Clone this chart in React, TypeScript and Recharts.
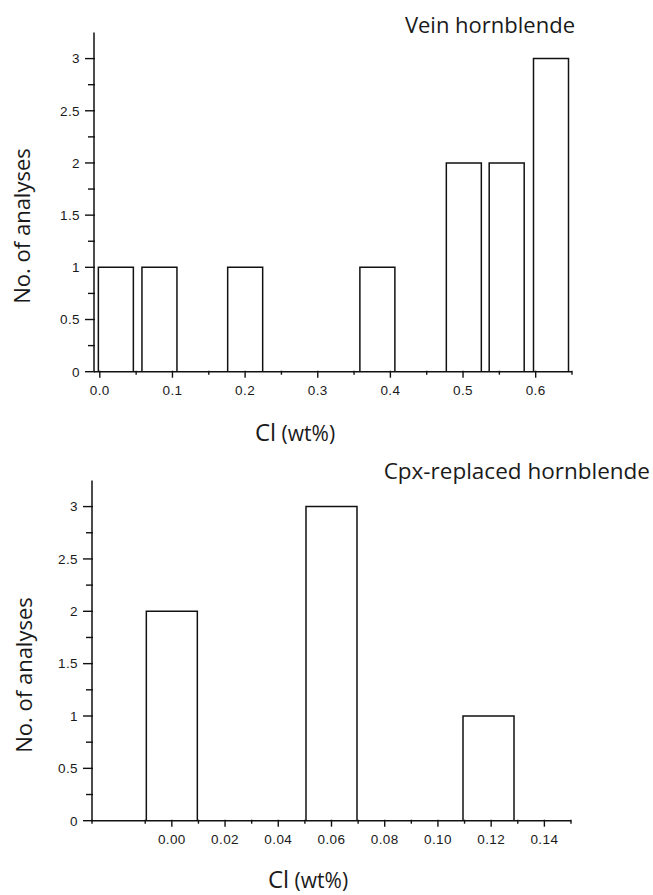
import React from "react";
import { BarChart, Bar, XAxis, YAxis } from "recharts";

// Vein hornblende histogram (Cl wt% bin centres and counts)
const veinCl = [0.022, 0.082, 0.2, 0.382, 0.501, 0.56, 0.621];
const veinCounts = [1, 1, 1, 1, 2, 2, 3];
const veinMajorTicks = [0, 0.1, 0.2, 0.3, 0.4, 0.5, 0.6];
const veinMinorTicks = [0.05, 0.15, 0.25, 0.35, 0.45, 0.55, 0.65];

// Cpx-replaced hornblende histogram
const cpxCl = [0, 0.06, 0.119];
const cpxCounts = [2, 3, 1];
const cpxMajorTicks = [0, 0.02, 0.04, 0.06, 0.08, 0.1, 0.12, 0.14];
const cpxMinorTicks = [-0.03, -0.01, 0.01, 0.03, 0.05, 0.07, 0.09, 0.11, 0.13, 0.15];

// shared count axis
const countMajorTicks = [0, 0.5, 1, 1.5, 2, 2.5, 3];
const countMinorTicks = [0.25, 0.75, 1.25, 1.75, 2.25, 2.75];

const veinData = veinCl.map((cl, i) => ({ cl, count: veinCounts[i] }));
const cpxData = cpxCl.map((cl, i) => ({ cl, count: cpxCounts[i] }));

const ink = "#111";
const tickFont = {
  fontFamily: "'Liberation Sans', Arial, sans-serif",
  fontSize: 13.5,
  letterSpacing: 0.4,
  fill: "#1a1a1a",
};
const labelFont = { fontFamily: "'Open Sans', sans-serif", fill: "#1a1a1a" };

const isIn = (list: number[], v: number) => list.some((m) => Math.abs(m - v) < 1e-9);

function makeXTick(majors: number[], digits: number) {
  return (props: any) => {
    const { x, y, payload } = props;
    const major = isIn(majors, payload.value);
    return (
      <g>
        <line x1={x} x2={x} y1={y - 1} y2={y + (major ? 6 : 3)} stroke={ink} strokeWidth={1.4} />
        {major && (
          <text x={x} y={y + 18} dy="0.36em" textAnchor="middle" {...tickFont}>
            {payload.value.toFixed(digits)}
          </text>
        )}
      </g>
    );
  };
}

function YTick(props: any) {
  const { x, y, payload } = props;
  const major = isIn(countMajorTicks, payload.value);
  return (
    <g>
      <line x1={x - (major ? 9 : 6)} x2={x + 1} y1={y} y2={y} stroke={ink} strokeWidth={1.4} />
      {major && (
        <text x={x - 14} y={y} dy="0.36em" textAnchor="end" {...tickFont}>
          {String(payload.value)}
        </text>
      )}
    </g>
  );
}

const veinXTick = makeXTick(veinMajorTicks, 1);
const cpxXTick = makeXTick(cpxMajorTicks, 2);
const countTicks = [...countMajorTicks, ...countMinorTicks].sort((a, b) => a - b);

function AxisTitle({ x, y }: { x: number; y: number }) {
  return (
    <text x={x} y={y} textAnchor="middle" {...labelFont}>
      <tspan fontSize={24}>Cl</tspan>
      <tspan fontSize={21}> (wt%)</tspan>
    </text>
  );
}

export default function App() {
  return (
    <div style={{ position: "absolute", left: 0, top: 0, width: 653, height: 895, background: "#fff" }}>
      <div style={{ position: "absolute", left: 0, top: 0 }}>
        <BarChart width={653} height={440} data={veinData} margin={{ top: 32.5, right: 81, bottom: 38.3, left: 0 }}>
          <XAxis
            type="number"
            dataKey="cl"
            domain={[-0.008, 0.65]}
            allowDataOverflow
            ticks={[...veinMajorTicks, ...veinMinorTicks].sort((a, b) => a - b)}
            interval={0}
            tick={veinXTick}
            tickLine={false}
            tickSize={0}
            tickMargin={0}
            height={30}
            axisLine={{ stroke: ink, strokeWidth: 1.5 }}
          />
          <YAxis
            domain={[0, 3.25]}
            allowDataOverflow
            ticks={countTicks}
            interval={0}
            tick={YTick}
            tickLine={false}
            tickSize={0}
            tickMargin={0}
            width={94}
            axisLine={{ stroke: ink, strokeWidth: 1.5 }}
          />
          <Bar dataKey="count" barSize={35} fill="#fff" stroke={ink} strokeWidth={1.5} isAnimationActive={false} />
        </BarChart>
      </div>
      <div style={{ position: "absolute", left: 0, top: 440 }}>
        <BarChart width={653} height={455} data={cpxData} margin={{ top: 40.4, right: 82, bottom: 44.3, left: 0 }}>
          <XAxis
            type="number"
            dataKey="cl"
            domain={[-0.03, 0.15]}
            allowDataOverflow
            ticks={[...cpxMajorTicks, ...cpxMinorTicks].sort((a, b) => a - b)}
            interval={0}
            tick={cpxXTick}
            tickLine={false}
            tickSize={0}
            tickMargin={0}
            height={30}
            axisLine={{ stroke: ink, strokeWidth: 1.5 }}
          />
          <YAxis
            domain={[0, 3.25]}
            allowDataOverflow
            ticks={countTicks}
            interval={0}
            tick={YTick}
            tickLine={false}
            tickSize={0}
            tickMargin={0}
            width={92}
            axisLine={{ stroke: ink, strokeWidth: 1.5 }}
          />
          <Bar dataKey="count" barSize={51} fill="#fff" stroke={ink} strokeWidth={1.5} isAnimationActive={false} />
        </BarChart>
      </div>
      <svg width={653} height={895} style={{ position: "absolute", left: 0, top: 0, pointerEvents: "none" }}>
        <text x={575} y={33} textAnchor="end" fontSize={22} {...labelFont}>
          Vein hornblende
        </text>
        <text x={30} y={226} textAnchor="middle" fontSize={22} transform="rotate(-90 30 226)" {...labelFont}>
          No. of analyses
        </text>
        <AxisTitle x={295} y={441} />
        <text x={650} y={479} textAnchor="end" fontSize={22.5} {...labelFont}>
          Cpx-replaced hornblende
        </text>
        <text x={32} y={675} textAnchor="middle" fontSize={22} transform="rotate(-90 32 675)" {...labelFont}>
          No. of analyses
        </text>
        <AxisTitle x={308} y={888} />
      </svg>
    </div>
  );
}
